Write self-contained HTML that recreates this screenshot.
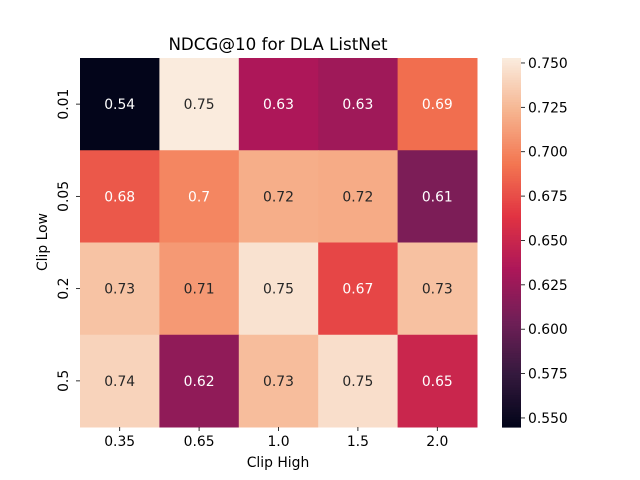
<!DOCTYPE html>
<html><head><meta charset="utf-8"><style>
html,body{margin:0;padding:0;background:#fff}
svg{display:block;font-family:"DejaVu Sans","Liberation Sans",sans-serif}
</style></head><body>
<svg id="chart" width="640" height="480" viewBox="0 0 640 480" xmlns="http://www.w3.org/2000/svg">
<text x="278" y="50" font-size="16.7" text-anchor="middle">NDCG@10 for DLA ListNet</text>
<text x="278" y="467" font-size="13.9" text-anchor="middle">Clip High</text>
<text x="47" y="242" font-size="13.9" text-anchor="middle" transform="rotate(-90 47 242)">Clip Low</text>
<g id="cells"></g><g id="cbar"></g>
</svg>
<script>
const xCats = ["0.35","0.65","1.0","1.5","2.0"];
const yCats = ["0.01","0.05","0.2","0.5"];
const row001 = [0.5449, 0.7528, 0.634, 0.627, 0.690];
const row005 = [0.680, 0.701, 0.720, 0.719, 0.610];
const row02 = [0.731, 0.710, 0.748, 0.672, 0.730];
const row05 = [0.740, 0.620, 0.728, 0.746, 0.650];
const values = [row001, row005, row02, row05];
const cbTicks = [0.550,0.575,0.600,0.625,0.650,0.675,0.700,0.725,0.750];

const NS="http://www.w3.org/2000/svg";
const L=80,R=477,T=58,B=427;
const flat=values.flat();
const vmin=Math.min(...flat), vmax=Math.max(...flat);
const stops=["#03051a","#35193e","#701f57","#ad1759","#e13342","#f37651","#f6b48f","#faebdd"];
function hex(h){return [1,3,5].map(i=>parseInt(h.substr(i,2),16));}
function cmap(t){t=Math.max(0,Math.min(1,t));const n=stops.length-1;const p=t*n,i=Math.min(n-1,Math.floor(p)),f=p-i;
 const a=hex(stops[i]),b=hex(stops[i+1]);return a.map((v,k)=>Math.round(v+(b[k]-v)*f));}
function lum(c){const l=c.map(v=>{v/=255;return v<=0.03928?v/12.92:Math.pow((v+0.055)/1.055,2.4)});return 0.2126*l[0]+0.7152*l[1]+0.0722*l[2];}
const cw=(R-L)/xCats.length, ch=(B-T)/yCats.length;
const xs=i=>L+i*cw, ys=j=>T+j*ch;
function mk(tag,attrs,parent){const e=document.createElementNS(NS,tag);for(const k in attrs)e.setAttribute(k,attrs[k]);parent.appendChild(e);return e;}
const g=document.getElementById('cells');
values.forEach((row,j)=>row.forEach((v,i)=>{
 const c=cmap((v-vmin)/(vmax-vmin));
 const r=mk('rect',{x:xs(i),y:ys(j),width:cw+0.5,height:ch+0.5,fill:`rgb(${c})`},g);
 
 
 const t=mk('text',{x:xs(i)+cw/2,y:ys(j)+ch/2+5,'font-size':13.9,'text-anchor':'middle',fill:lum(c)>0.408?'#262626':'#fff'},g);
 
 
 t.textContent=String(Number(v.toPrecision(2)));
}));
xCats.forEach((c,i)=>{const x=xs(i)+cw/2;
 mk('line',{x1:x,x2:x,y1:B,y2:B+4,stroke:'#000','stroke-width':0.8},g);
 const t=mk('text',{x:x,y:B+19,'font-size':13.9,'text-anchor':'middle'},g);
 
 
 t.textContent=c;});
yCats.forEach((c,j)=>{const y=ys(j)+ch/2;
 mk('line',{x1:L-4,x2:L,y1:y,y2:y,stroke:'#000','stroke-width':0.8},g);
 const t=mk('text',{x:68,y:y,'font-size':13.9,'text-anchor':'middle',transform:`rotate(-90 68 ${y})`},g);
 
 
 t.textContent=c;});
const cb=document.getElementById('cbar');const CX=502,CW=19;
const N=150;for(let k=0;k<N;k++){const c=cmap(1-k/(N-1));
 mk('rect',{x:CX,y:T+k*(B-T)/N,width:CW,height:(B-T)/N+0.6,fill:`rgb(${c})`},cb);}
const cy=v=>B-(v-vmin)/(vmax-vmin)*(B-T);
cbTicks.forEach(v=>{const y=cy(v);
 mk('line',{x1:CX+CW,x2:CX+CW+4,y1:y,y2:y,stroke:'#000','stroke-width':0.8},cb);
 const t=mk('text',{x:CX+CW+7,y:y+5,'font-size':13.9},cb);
 
 
 t.textContent=v.toFixed(3);});
</script>
</body></html>
